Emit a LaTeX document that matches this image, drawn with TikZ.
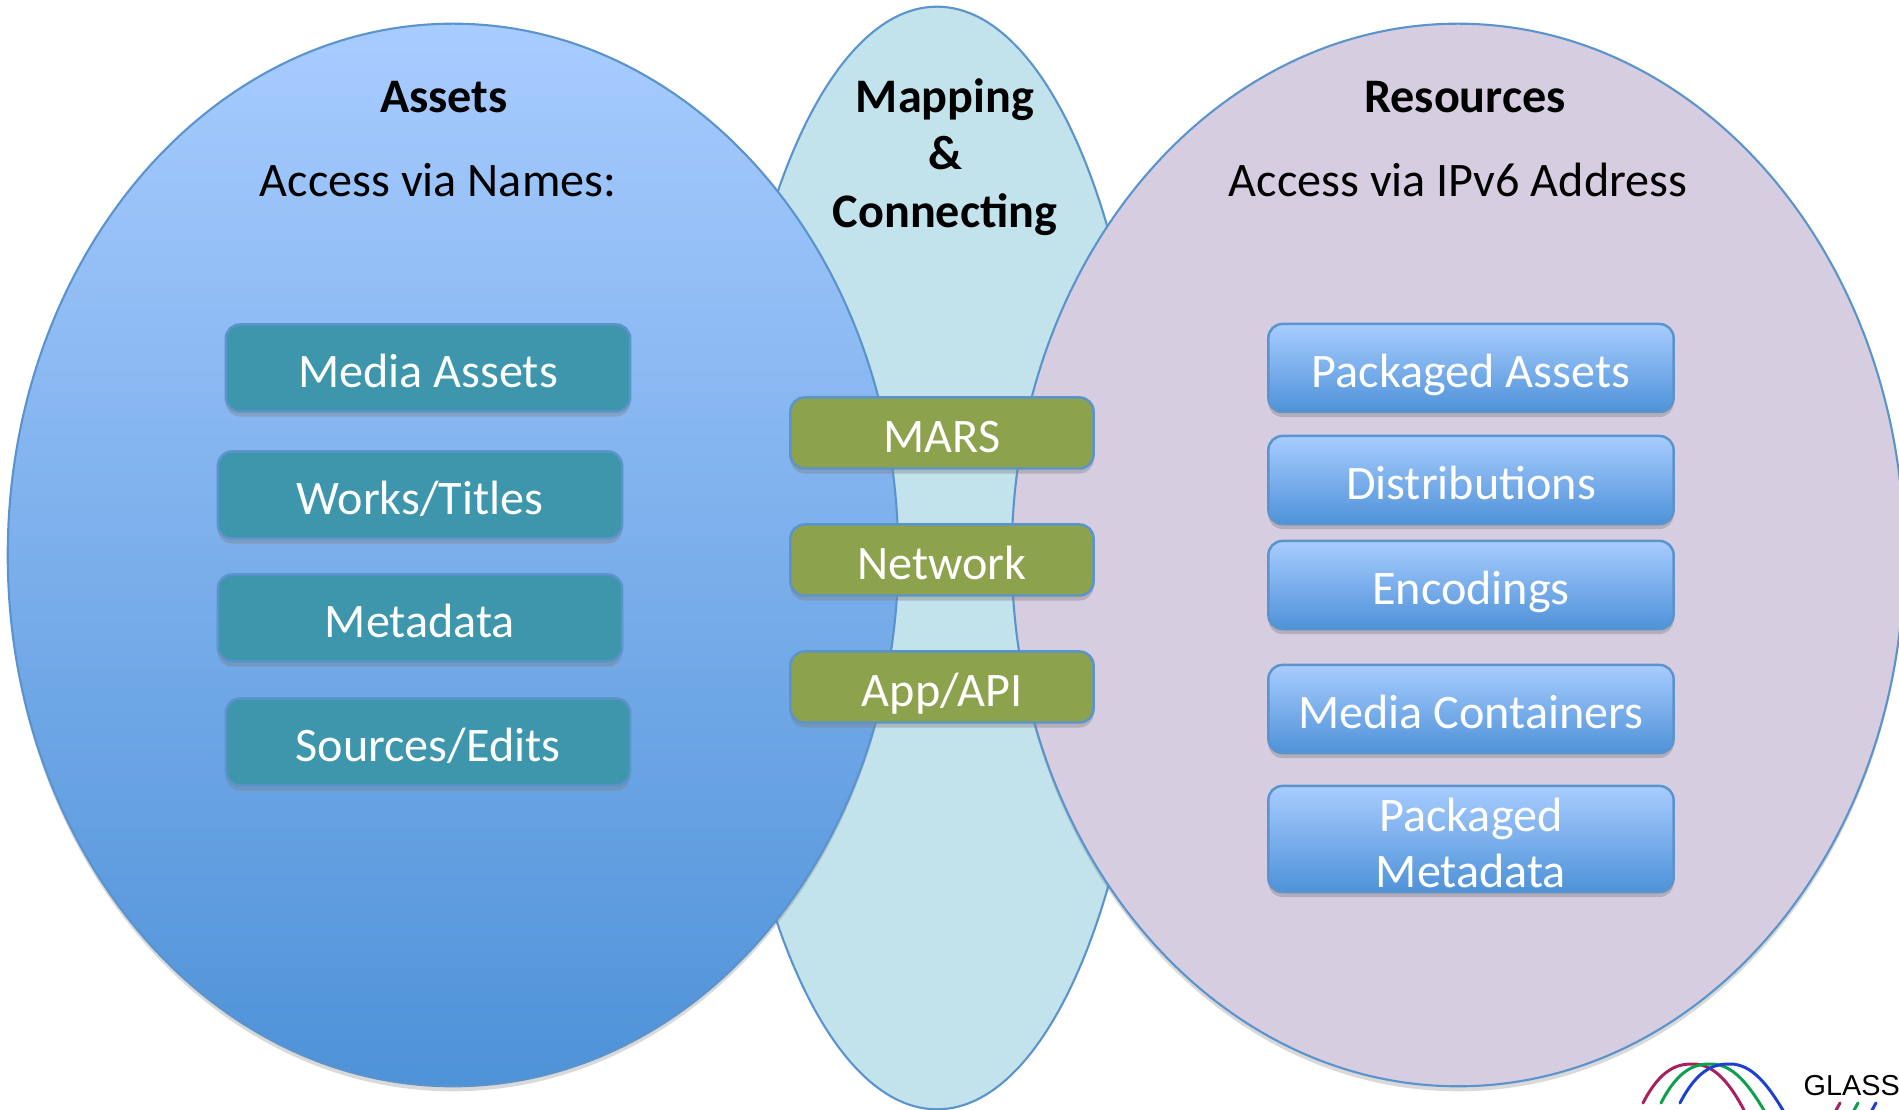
\documentclass[tikz,border=0pt]{standalone}
\usepackage{fontspec}
\setmainfont{Carlito}
\newfontfamily\logofont{Liberation Sans}
\usetikzlibrary{shadows}
\usetikzlibrary{shapes.geometric}
\definecolor{edgeblue}{HTML}{5B93CC}
\definecolor{tealfill}{HTML}{3E96AD}
\definecolor{olivefill}{HTML}{8CA24C}
\definecolor{midfill}{HTML}{C2E3EC}
\definecolor{rightfill}{HTML}{D6CDE1}
\definecolor{skytop}{HTML}{A8CCFF}
\definecolor{skybot}{HTML}{4E92D8}
\definecolor{logopurple}{HTML}{A6215F}
\definecolor{logogreen}{HTML}{0E9F4E}
\definecolor{logoblue}{HTML}{1F3FD0}
\tikzset{
    setoval/.style={draw=edgeblue, line width=0.6pt, ellipse, inner sep=0pt},
    ovalshadow/.style={drop shadow={shadow xshift=0pt, shadow yshift=-0.05cm, opacity=0.3}},
    itembox/.style={draw=edgeblue, line width=0.7pt, rounded corners=0.14cm, text=white, align=center, font=\fontsize{13.7}{15.9}\selectfont, inner sep=0pt, drop shadow={shadow xshift=0pt, shadow yshift=-0.05cm, opacity=0.4}},
    oneline/.style={text height=0.38cm, text depth=0pt},
    tealbox/.style={itembox, oneline, fill=tealfill, minimum width=4.04cm, minimum height=0.87cm},
    skybox/.style={itembox, top color=skytop, bottom color=skybot, minimum width=4.05cm, minimum height=0.88cm},
    olivebox/.style={itembox, oneline, fill=olivefill, minimum width=3.03cm, minimum height=0.71cm},
    headtext/.style={font=\fontsize{13.7}{16.4}\selectfont\bfseries, align=center},
    subtext/.style={font=\fontsize{13.7}{16.4}\selectfont},
    logoline/.style={line width=0.85pt, line cap=round}
}
\begin{document}
\begin{tikzpicture}[x=0.01cm, y=-0.01cm]
    \useasboundingbox (0,0) rectangle (1899,1110);
    \clip (0,0) rectangle (1899,1110);

    % the three sets
    \node[setoval, fill=midfill, minimum width=4.26cm, minimum height=11.02cm] (mapping) at (937,558) {};
    \node[setoval, ovalshadow, top color=skytop, bottom color=skybot, minimum width=8.90cm, minimum height=10.62cm] (assets) at (453,555) {};
    \node[setoval, ovalshadow, fill=rightfill, minimum width=8.92cm, minimum height=10.62cm] (resources) at (1458,555) {};

    % headings
    \node[headtext] (assetshead) at (444,97) {Assets};
    \node[subtext] (assetssub) at (438,180) {Access via Names:};
    \node[headtext] (mappinghead) at (945,157) {Mapping\\\&\\Connecting};
    \node[headtext] (resourceshead) at (1465,97) {Resources};
    \node[subtext] (resourcessub) at (1458,180) {Access via IPv6 Address};

    % left column
    \node[tealbox] (media) at (428,368) {Media Assets};
    \node[tealbox] (works) at (420,495) {Works/Titles};
    \node[tealbox] (metadata) at (420,618) {Metadata};
    \node[tealbox] (sources) at (428,742) {Sources/Edits};

    % middle column
    \node[olivebox] (mars) at (942,433) {MARS};
    \node[olivebox] (network) at (942,560) {Network};
    \node[olivebox] (appapi) at (942,687) {App/API};

    % right column
    \node[skybox, oneline] (packaged) at (1471,368) {Packaged Assets};
    \node[skybox, oneline] (distrib) at (1471,480) {Distributions};
    \node[skybox, oneline] (encodings) at (1471,585) {Encodings};
    \node[skybox, oneline] (containers) at (1471,709) {Media Containers};
    \node[skybox, minimum height=1.06cm] (packmeta) at (1471,839) {\rule{0pt}{0.41cm}Packaged\\Metadata};

    % logo in the corner
    \draw[logoline, draw=logopurple] (1643,1103) .. controls (1662,1066) and (1680,1064) .. (1693,1064) .. controls (1715,1064) and (1731,1085) .. (1745,1112);
    \draw[logoline, draw=logogreen] (1661,1103) .. controls (1680,1066) and (1698,1064) .. (1711,1064) .. controls (1733,1064) and (1749,1085) .. (1765,1112);
    \draw[logoline, draw=logoblue] (1680,1103) .. controls (1699,1066) and (1717,1064) .. (1730,1064) .. controls (1752,1064) and (1768,1085) .. (1784,1112);
    \draw[logoline, draw=logopurple] (1840,1103) -- (1835,1112);
    \draw[logoline, draw=logogreen] (1858,1103) -- (1853,1112);
    \draw[logoline, draw=logoblue] (1876,1103) -- (1871,1112);
    \node[anchor=base west, inner sep=0pt, font=\logofont\fontsize{8.2}{10}\selectfont] (glass) at (1803,1096) {GLASS};
\end{tikzpicture}
\end{document}
